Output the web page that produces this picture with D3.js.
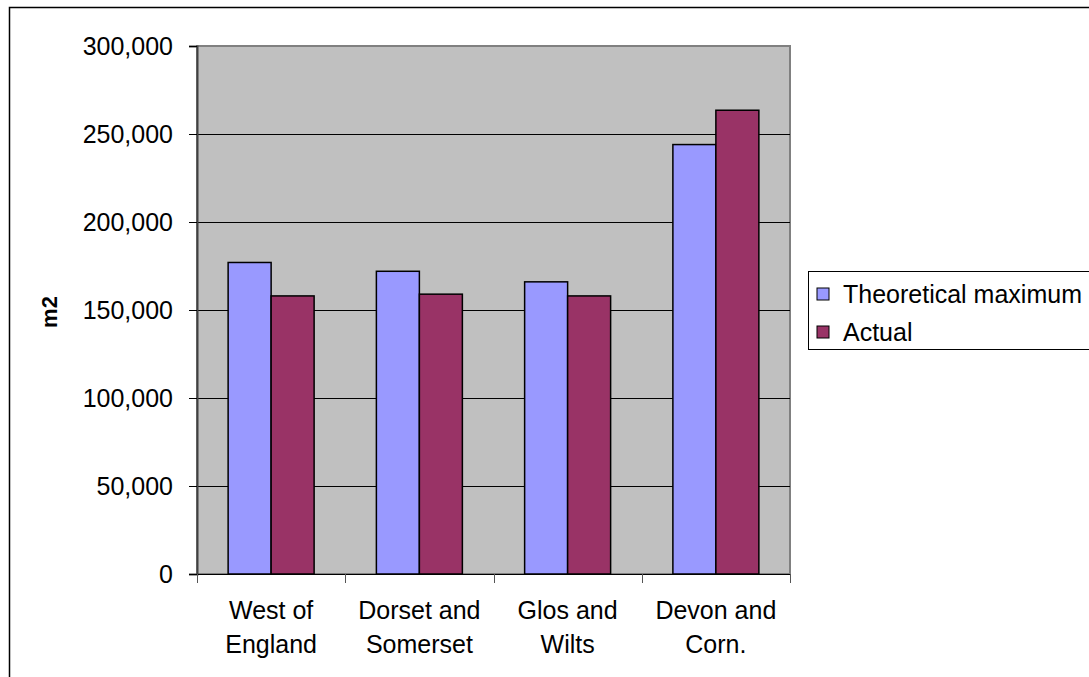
<!DOCTYPE html>
<html>
<head>
<meta charset="utf-8">
<script src="https://cdn.jsdelivr.net/npm/d3@7"></script>
<style>
  body { margin: 0; background: #fff; }
  text { font-family: "Liberation Sans", Arial, sans-serif; fill: #000; }
</style>
</head>
<body>
<div id="viz"></div>
<script>
var regions = [["West of", "England"], ["Dorset and", "Somerset"], ["Glos and", "Wilts"], ["Devon and", "Corn."]];
var seriesNames = ["Theoretical maximum", "Actual"];
var theoretical = [177000, 172000, 166000, 244000];
var actual = [158000, 159000, 158000, 263500];
var yTicks = [0, 50000, 100000, 150000, 200000, 250000, 300000];
var colors = ["#9999ff", "#993366"];

var margin = {top: 46, right: 299, bottom: 103, left: 197},
    width = 1089 - margin.left - margin.right,
    height = 677 - margin.top - margin.bottom;

var svg = d3.select("#viz")
    .append("svg")
    .attr("width", 1089)
    .attr("height", 677);

// chart frame
svg.append("rect")
    .attr("x", 9.5).attr("y", 7.5)
    .attr("width", 1100).attr("height", 700)
    .attr("fill", "none")
    .attr("stroke", "#000")
    .attr("stroke-width", 1.5);

var g = svg.append("g")
    .attr("transform", "translate(" + margin.left + "," + margin.top + ")");

var keys = regions.map(function (d) { return d.join(" "); });

var x0 = d3.scaleBand()
    .domain(keys)
    .range([0, width])
    .paddingInner(0.42)
    .paddingOuter(0.21);

var x1 = d3.scaleBand()
    .domain([0, 1])
    .range([0, x0.bandwidth()]);

var y = d3.scaleLinear()
    .domain([0, 300000])
    .range([height, 0]);

// plot area
g.append("rect")
    .attr("width", width)
    .attr("height", height)
    .attr("fill", "#c0c0c0")
    .attr("stroke", "#808080")
    .attr("stroke-width", 2);

// gridlines
g.append("g")
    .selectAll("line")
    .data(yTicks.slice(1, -1))
    .enter().append("line")
    .attr("x1", 0).attr("x2", width)
    .attr("y1", function (d) { return Math.round(y(d)) + 0.5; })
    .attr("y2", function (d) { return Math.round(y(d)) + 0.5; })
    .attr("stroke", "#000")
    .attr("stroke-width", 1);

// bars
var rows = keys.map(function (k, i) { return {key: k, vals: [theoretical[i], actual[i]]}; });

g.append("g")
    .selectAll("g")
    .data(rows)
    .enter().append("g")
    .attr("transform", function (d) { return "translate(" + x0(d.key) + ",0)"; })
    .selectAll("rect")
    .data(function (d) { return d.vals.map(function (v, j) { return {j: j, v: v}; }); })
    .enter().append("rect")
    .attr("x", function (d) { return x1(d.j); })
    .attr("y", function (d) { return y(d.v); })
    .attr("width", x1.bandwidth())
    .attr("height", function (d) { return height - y(d.v); })
    .attr("fill", function (d) { return colors[d.j]; })
    .attr("stroke", "#000")
    .attr("stroke-width", 1.5);

// y axis
var yAxis = g.append("g")
    .call(d3.axisLeft(y).tickValues(yTicks).tickSize(8).tickPadding(16)
        .tickFormat(d3.format(",")));
yAxis.select(".domain").attr("stroke", "#404040").attr("stroke-width", 2);
yAxis.selectAll(".tick line").attr("stroke", "#000");
yAxis.selectAll("text").style("font-size", "25px").attr("fill", "#000");

// x axis line and ticks between categories
g.append("line")
    .attr("x1", -8).attr("x2", width)
    .attr("y1", height + 0.5).attr("y2", height + 0.5)
    .attr("stroke", "#000");

var step = x0.step();
g.append("g")
    .selectAll("line")
    .data(d3.range(keys.length + 1))
    .enter().append("line")
    .attr("x1", function (i) { return Math.round(i * step) + 0.5; })
    .attr("x2", function (i) { return Math.round(i * step) + 0.5; })
    .attr("y1", height)
    .attr("y2", height + 9)
    .attr("stroke", "#555");

// category labels
var labels = g.append("g")
    .selectAll("text")
    .data(regions)
    .enter().append("text")
    .attr("text-anchor", "middle")
    .style("font-size", "25px")
    .attr("transform", function (d, i) {
        return "translate(" + (x0(keys[i]) + x0.bandwidth() / 2) + "," + (height + 45) + ")";
    });
labels.selectAll("tspan")
    .data(function (d) { return d; })
    .enter().append("tspan")
    .attr("x", 0)
    .attr("dy", function (d, i) { return i ? 34 : 0; })
    .text(function (d) { return d; });

// y title
svg.append("text")
    .attr("transform", "translate(57,312) rotate(-90)")
    .attr("text-anchor", "middle")
    .style("font-size", "22px")
    .style("font-weight", "bold")
    .text("m2");

// legend
var legend = svg.append("g").attr("transform", "translate(808,271)");
legend.append("rect")
    .attr("x", 0.5).attr("y", 0.5)
    .attr("width", 400).attr("height", 78)
    .attr("fill", "#fff")
    .attr("stroke", "#000");

var item = legend.selectAll(".item")
    .data(seriesNames)
    .enter().append("g")
    .attr("class", "item")
    .attr("transform", function (d, i) { return "translate(0," + (23 + i * 38) + ")"; });
item.append("rect")
    .attr("x", 9).attr("y", -6)
    .attr("width", 12).attr("height", 12)
    .attr("fill", function (d, i) { return colors[i]; })
    .attr("stroke", "#000");
item.append("text")
    .attr("x", 35)
    .attr("y", 9)
    .style("font-size", "25px")
    .text(function (d) { return d; });
</script>
</body>
</html>
